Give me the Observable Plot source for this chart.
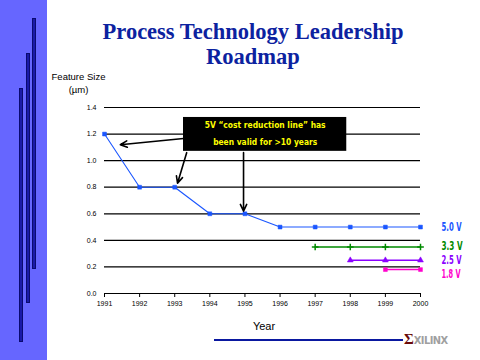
<!DOCTYPE html>
<html>
<head>
<meta charset="utf-8">
<script src="https://cdn.jsdelivr.net/npm/d3@7"></script>
<script src="https://cdn.jsdelivr.net/npm/@observablehq/plot@0.6"></script>
<style>
  html, body { margin: 0; padding: 0; background: #fff; }
  #wrap { position: relative; width: 480px; height: 360px; overflow: hidden; background: #fff; }
  #wrap svg { position: absolute; left: 0; top: 0; }
  .abs { position: absolute; }
  .band { left: 0; top: 0; width: 47px; height: 360px; background: #6666ff; }
  .vbar { width: 2px; background: #1a1aa8; border: 1px solid #0a0a70; }
  .title { left: 53px; top: 19px; width: 400px; text-align: center; font-family: "Liberation Serif", "Times New Roman", serif; font-weight: bold; font-size: 22.5px; line-height: 25px; color: #0c22a0; }
  .ylab { left: 38px; top: 70px; width: 81px; text-align: center; font-family: "Liberation Sans", Arial, sans-serif; font-size: 9.5px; line-height: 13px; color: #000; }
  .xlab { left: 234px; top: 320px; width: 60px; text-align: center; font-family: "Liberation Sans", Arial, sans-serif; font-size: 11px; line-height: 13px; color: #000; }
  .bline { left: 214px; top: 339px; width: 189px; height: 2px; background: #0a18a0; }
  .logo { left: 404px; top: 332px; font-family: "DejaVu Sans Condensed", sans-serif; font-weight: bold; font-size: 11px; line-height: 14px; white-space: nowrap; }
  .logo .mark { color: #6a0a0a; font-family: "Liberation Serif", serif; font-size: 15px; }
  .logo .word { color: #a0a0a0; letter-spacing: -0.6px; }
</style>
</head>
<body>
<div id="wrap">
  <div class="abs band"></div>
  <div class="abs vbar" style="left:19px; top:88px; height:252px;"></div>
  <div class="abs vbar" style="left:26px; top:53px; height:248px;"></div>
  <div class="abs vbar" style="left:32px; top:18px; height:249px;"></div>
  <div class="abs title">Process Technology Leadership<br>Roadmap</div>
  <div class="abs ylab">Feature Size<br>(µm)</div>
  <div class="abs xlab">Year</div>
  <div class="abs bline"></div>
  <div class="abs logo"><span class="mark">Σ</span><span class="word">XILINX</span></div>
</div>
<script>
// ---- data ----
const years = [1991, 1992, 1993, 1994, 1995, 1996, 1997, 1998, 1999, 2000];
const v50 = [1.2, 0.8, 0.8, 0.6, 0.6, 0.5, 0.5, 0.5, 0.5, 0.5];
const years33 = [1997, 1998, 1999, 2000];
const v33 = [0.35, 0.35, 0.35, 0.35];
const years25 = [1998, 1999, 2000];
const v25 = [0.25, 0.25, 0.25];
const years18 = [1999, 2000];
const v18 = [0.18, 0.18];
const yTicks = [0, 0.2, 0.4, 0.6, 0.8, 1.0, 1.2, 1.4];
const gridVals = [0.2, 0.4, 0.6, 0.8, 1.0, 1.2, 1.4];
const seriesNames = ["5.0 V", "3.3 V", "2.5 V", "1.8 V"];
const seriesLabelY = [0.5, 0.36, 0.25, 0.143];
const annotLines = ["5V “cost reduction line” has", "been valid for >10 years"];
const annotLineY = [1.265, 1.137];
const annotBox = [{x1: 1993.25, x2: 1997.9, y1: 1.07, y2: 1.325}];
const arrows = [
  {x1: 1993.25, y1: 1.167, x2: 1991.45, y2: 1.12},
  {x1: 1993.34, y1: 1.06, x2: 1993.08, y2: 0.83},
  {x1: 1994.96, y1: 1.06, x2: 1994.96, y2: 0.62}
];

// ---- build tables ----
const colors = ["#1a56ff", "#008a00", "#8a00ff", "#ff00cc"];
const symbols = ["square", "plus", "triangle", "square"];
const sets = [[years, v50], [years33, v33], [years25, v25], [years18, v18]];
const series = sets.map(([xs, ys], i) => xs.map((x, j) => ({x, y: ys[j], s: seriesNames[i]})));
const labels = seriesNames.map((name, i) => ({name, y: seriesLabelY[i], c: colors[i]}));
const annot = annotLines.map((t, i) => ({t, y: annotLineY[i]}));
const narrow = "'Liberation Sans Narrow', 'DejaVu Sans Condensed', sans-serif";

const marks = [
  Plot.ruleY(gridVals, {stroke: "#000", strokeWidth: 1.2}),
  Plot.ruleY([0], {stroke: "#000", strokeWidth: 1.2}),
];
series.forEach((d, i) => {
  marks.push(Plot.line(d, {x: "x", y: "y", stroke: colors[i], strokeWidth: i === 0 ? 1.1 : 1.5}));
  marks.push(Plot.dot(d, {x: "x", y: "y", symbol: symbols[i], r: i === 1 ? 2.3 : 2.2, fill: colors[i], stroke: colors[i], strokeWidth: i === 1 ? 1.5 : 0.5}));
});
marks.push(
  Plot.rect(annotBox, {x1: "x1", x2: "x2", y1: "y1", y2: "y2", fill: "#000"}),
  Plot.text(annot, {x: () => (annotBox[0].x1 + annotBox[0].x2) / 2, y: "y", text: "t", fill: "#ffff00", fontWeight: "bold", fontSize: 9.5, fontFamily: narrow}),
  Plot.arrow(arrows, {x1: "x1", y1: "y1", x2: "x2", y2: "y2", stroke: "#000", strokeWidth: 1.6, headLength: 7, headAngle: 50}),
  Plot.text(labels, {x: () => 2000, y: "y", text: "name", fill: "c", dx: 21, textAnchor: "start", fontWeight: "bold", fontSize: 12, fontFamily: narrow})
);

const chart = Plot.plot({
  width: 480,
  height: 360,
  marginLeft: 104,
  marginRight: 60,
  marginTop: 107,
  marginBottom: 67,
  style: {fontSize: "7px", fontFamily: "'Liberation Sans', Arial, sans-serif", background: "transparent", overflow: "visible", color: "#000"},
  x: {domain: [1991, 2000], ticks: years, tickFormat: d => String(d), tickSize: 4, tickPadding: 4, label: null},
  y: {domain: [0, 1.4], ticks: yTicks, tickFormat: d3.format(".1f"), tickSize: 0, tickPadding: 8, label: null},
  marks
});

// condense the narrow-font texts to the reference widths
const squeeze = new Map([
  [annotLines[0], 121], [annotLines[1], 104],
  ["5.0 V", 20], ["3.3 V", 21], ["2.5 V", 20], ["1.8 V", 19]
]);
d3.select(chart).selectAll("text").each(function () {
  const w = squeeze.get(this.textContent);
  if (w) {
    this.setAttribute("textLength", w);
    this.setAttribute("lengthAdjust", "spacingAndGlyphs");
  }
});

const wrap = document.getElementById("wrap");
wrap.insertBefore(chart, wrap.firstChild);
</script>
</body>
</html>
